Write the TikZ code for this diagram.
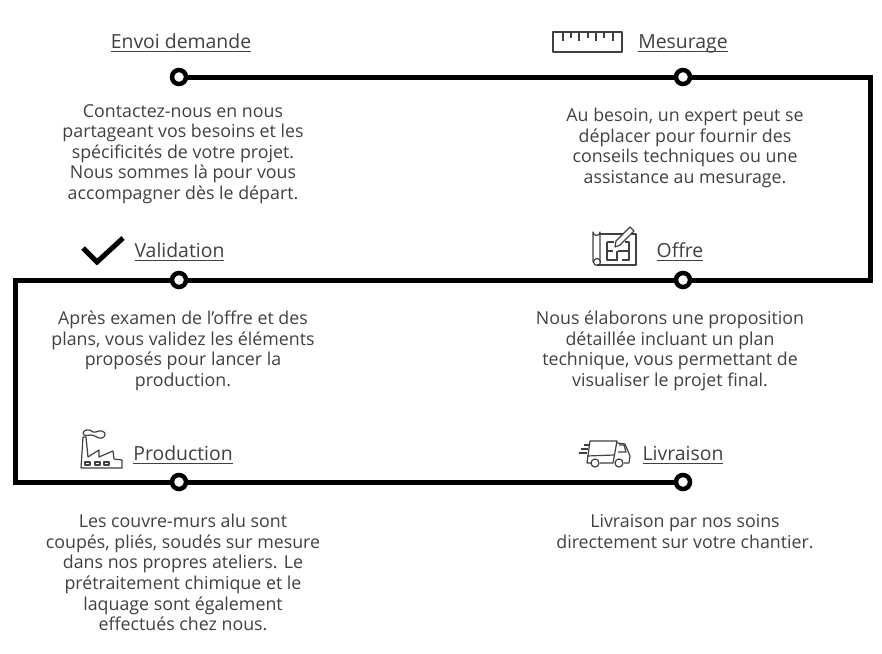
\documentclass[tikz,border=0pt]{standalone}
\usepackage{fontspec}
\setmainfont{Open Sans}
\usetikzlibrary{calc}
\definecolor{textgrey}{rgb}{0.25, 0.25, 0.25}
\tikzset{
    dot/.style={circle, draw=black, fill=white, line width=4.5pt, minimum size=14pt, inner sep=0pt},
    track/.style={draw=black, line width=5pt},
    heading/.style={text=textgrey, anchor=base, font=\fontsize{19.4}{22}\selectfont, inner sep=0pt},
    blurb/.style={text=textgrey, align=center, font=\fontsize{17.8}{20.6}\selectfont, inner sep=0pt},
    icon/.style={draw=textgrey, line width=1.2pt, line join=round}
}
\newlength{\headwidth}
\newcommand{\headtext}[1]{\settowidth{\headwidth}{#1}\rlap{\rule[-4pt]{\headwidth}{1.1pt}}#1}

\begin{document}
\begin{tikzpicture}[x=1pt, y=-1pt]
        \useasboundingbox (0,0) rectangle (882,653);

        % points on the line
        \node [dot] (envoi) at (179,77) {};
        \node [dot] (mesurage) at (683,77) {};
        \node [dot] (offre) at (683,280) {};
        \node [dot] (validation) at (179,280) {};
        \node [dot] (production) at (179,482) {};
        \node [dot] (livraison) at (683,482) {};
        \coordinate (topright) at (870,77);
        \coordinate (midright) at (870,280);
        \coordinate (midleft) at (15,280);
        \coordinate (lowleft) at (15,482);

        \draw [track, line join=miter] (envoi) -- (mesurage) -- (topright) -- (midright) -- (offre)
            -- (validation) -- (midleft) -- (lowleft) -- (production) -- (livraison);

        % headings
        \node [heading] (henvoi) at (181,48) {\headtext{Envoi demande}};
        \node [heading] (hmesurage) at (683,48) {\headtext{Mesurage}};
        \node [heading] (hvalidation) at (179.5,257) {\headtext{Validation}};
        \node [heading] (hoffre) at (680,257) {\headtext{Offre}};
        \node [heading] (hproduction) at (183,460) {\headtext{Production}};
        \node [heading] (hlivraison) at (683,460) {\headtext{Livraison}};

        % texts
        \node [blurb] (tenvoi) at (183,154) {Contactez-nous en nous\\partageant vos besoins et les\\spécificités de votre projet.\\Nous sommes là pour vous\\accompagner dès le départ.};
        \node [blurb] (tmesurage) at (685,148) {Au besoin, un expert peut se\\déplacer pour fournir des\\conseils techniques ou une\\assistance au mesurage.};
        \node [blurb] (tvalidation) at (183,351) {Après examen de l'offre et des\\plans, vous validez les éléments\\proposés pour lancer la\\production.};
        \node [blurb] (toffre) at (670,351) {Nous élaborons une proposition\\détaillée incluant un plan\\technique, vous permettant de\\visualiser le projet final.};
        \node [blurb] (tproduction) at (183,572.5) {Les couvre-murs alu sont\\coupés, pliés, soudés sur mesure\\dans nos propres ateliers. Le\\prétraitement chimique et le\\laquage sont également\\effectués chez nous.};
        \node [blurb] (tlivraison) at (685,531.5) {Livraison par nos soins\\directement sur votre chantier.};

        % ruler
        \begin{scope}[icon]
        \draw (553,32) rectangle (622,52);
        \foreach \x/\y in {563/41,571/38,579/41,588/38,596/41,604/38,613/41}
            \draw (\x,32) -- (\x,\y);
        \end{scope}

        % check mark
        \draw [line width=5pt, black] (83,248) -- (97,262) -- (123,238);

        % plan with pencil
        \begin{scope}[icon]
        \draw (600,234) -- (636,234) -- (636,265) -- (597,265);
        \draw (600,262) -- (600,232) arc (0:180:3.5) -- (593,262);
        \draw (597,262) circle (3.5);
        \draw (607,242) -- (614,242) (625,242) -- (629,242) -- (629,260) -- (622,260)
            (618,260) -- (607,260) -- (607,242) (607,251) -- (613,251) (618,251) -- (629,251)
            (617,251) -- (617,260);
        \draw [fill=white] (615,247) -- (616,241) -- (630,227) -- (634,231) -- (620,245) -- cycle;
        \end{scope}

        % factory
        \begin{scope}[icon]
        \draw (81,468) -- (83,437) -- (86,437) -- (88,457) -- (99,450) -- (99,457) -- (113,451)
            -- (114,459) -- (122,460) -- (122,468) -- cycle;
        \draw (83,433) .. controls (84,429) and (90,429) .. (93,432)
            .. controls (96,433) and (99,430) .. (102,431)
            .. controls (106,432) and (106,437) .. (102,438)
            .. controls (98,439) and (95,435) .. (91,435)
            .. controls (88,435) and (84,437) .. (83,433);
        \foreach \x in {85,95,104}
            \draw (\x,462) rectangle ++(5,3);
        \end{scope}

        % truck
        \begin{scope}[icon]
        \draw (591,463) -- (587,463) -- (590,441) -- (617,441) -- (613,463) -- (600,463);
        \draw (587,456) -- (614,455);
        \draw (617,443) -- (625,444) -- (630,456) -- (629,463) -- (624,463);
        \draw (619,445) -- (624,445) -- (626,452) -- (618,452);
        \draw (595,463) circle (4) (619,463) circle (4);
        \draw (584,445) -- (589,445) (581,449) -- (588,449) (579,453) -- (587,453);
        \end{scope}

    \end{tikzpicture}
\end{document}
